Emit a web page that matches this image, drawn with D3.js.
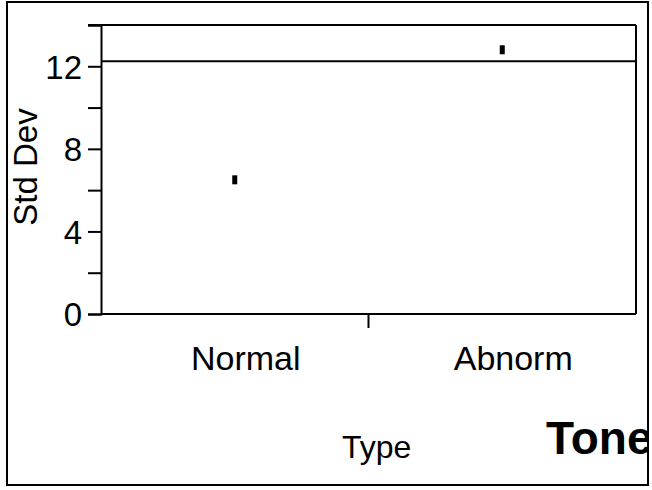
<!DOCTYPE html>
<html lang="en">
<head>
    <meta charset="UTF-8">
    <title>Tone - Std Dev by Type</title>
    <script src="https://d3js.org/d3.v7.min.js"></script>
    <style>
        body { margin: 0; background: #fff; }
        text { font-family: "Liberation Sans", Arial, sans-serif; fill: #000; }
    </style>
</head>
<body>
    <svg width="652" height="490"></svg>
    <script>
        // chart data
        const categories = ["Normal", "Abnorm"];
        const stdDevs = [6.5, 12.8];
        const refValue = 12.25;           // horizontal limit line
        const yTicks = [0, 2, 4, 6, 8, 10, 12, 14];
        const yLabels = [0, 4, 8, 12];
        const yMax = 14;

        const svg = d3.select("svg");
        const plotL = 101, plotR = 636, plotT = 25, plotB = 314;

        const x = d3.scaleBand().domain(categories).range([plotL, plotR]);
        const y = d3.scaleLinear().domain([0, yMax]).range([plotB, plotT]);

        svg.append("clipPath").attr("id", "outer")
          .append("rect").attr("x", 7).attr("y", 2).attr("width", 641).attr("height", 483);

        const g = svg.append("g").attr("clip-path", "url(#outer)");

        // y axis
        const yAxis = g.append("g")
            .attr("transform", `translate(${plotL},0)`)
            .call(d3.axisLeft(y)
                .tickValues(yTicks)
                .tickSize(13)
                .tickPadding(6)
                .tickFormat(d => yLabels.includes(d) ? d : ""));
        yAxis.select(".domain").attr("stroke-width", 2);
        yAxis.selectAll(".tick line").attr("stroke-width", 2);
        yAxis.selectAll(".tick text")
            .attr("font-size", 33)
            .attr("dy", "0.36em");

        // frame: top, right, bottom
        g.append("line")
            .attr("x1", plotL - 13).attr("x2", plotR)
            .attr("y1", y(yMax)).attr("y2", y(yMax))
            .attr("stroke", "#000").attr("stroke-width", 2);
        g.append("line")
            .attr("x1", plotR).attr("x2", plotR)
            .attr("y1", y(yMax)).attr("y2", y(0))
            .attr("stroke", "#000").attr("stroke-width", 2);
        g.append("line")
            .attr("x1", plotL).attr("x2", plotR)
            .attr("y1", y(0)).attr("y2", y(0))
            .attr("stroke", "#000").attr("stroke-width", 2);

        // reference line
        g.append("line")
            .attr("x1", plotL).attr("x2", plotR)
            .attr("y1", y(refValue)).attr("y2", y(refValue))
            .attr("stroke", "#000").attr("stroke-width", 2);

        // x axis: divider tick + category labels
        const mid = (plotL + plotR) / 2;
        g.append("line")
            .attr("x1", mid).attr("x2", mid)
            .attr("y1", y(0)).attr("y2", y(0) + 14)
            .attr("stroke", "#000").attr("stroke-width", 2);

        g.selectAll(".cat")
            .data(categories)
            .join("text")
            .attr("class", "cat")
            .attr("x", d => x(d) + x.bandwidth() / 2)
            .attr("dx", 11)
            .attr("y", 370)
            .attr("text-anchor", "middle")
            .attr("font-size", 34)
            .text(d => d);

        // points
        g.selectAll(".pt")
            .data(categories.map((c, i) => ({c, v: stdDevs[i]})))
            .join("rect")
            .attr("class", "pt")
            .attr("x", d => x(d.c) + x.bandwidth() / 2 - 2.5)
            .attr("y", d => y(d.v) - 4.5)
            .attr("width", 5).attr("height", 9)
            .attr("fill", "#000");

        // axis titles
        g.append("text")
            .attr("transform", "translate(37,167) rotate(-90)")
            .attr("text-anchor", "middle")
            .attr("font-size", 33)
            .text("Std Dev");

        g.append("text")
            .attr("x", 342).attr("y", 458)
            .attr("font-size", 32)
            .text("Type");

        g.append("text")
            .attr("x", 546).attr("y", 454)
            .attr("font-size", 46)
            .attr("font-weight", "bold")
            .text("Tone");

        // outer border
        svg.append("rect")
            .attr("x", 7).attr("y", 2)
            .attr("width", 641).attr("height", 483)
            .attr("fill", "none").attr("stroke", "#000").attr("stroke-width", 2);
    </script>
</body>
</html>
